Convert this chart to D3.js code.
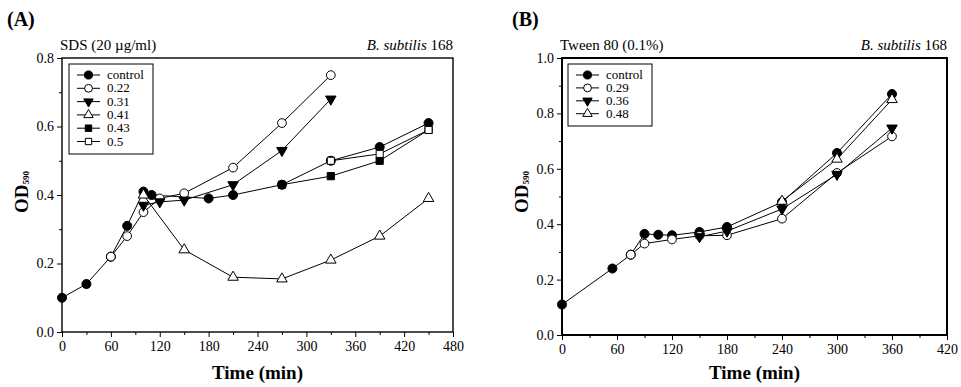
<!DOCTYPE html>
<html>
<head>
<meta charset="utf-8">
<script src="https://cdn.jsdelivr.net/npm/d3@7"></script>
<style>
  body { margin: 0; background: #fff; }
  svg text { font-family: "Liberation Serif", "Times New Roman", serif !important; fill: #000; }
</style>
</head>
<body>
<svg id="chart" width="961" height="387"></svg>
<script>
// ---- data (A): SDS 20 ug/ml ----
const sdsLegend = ["control", "0.22", "0.31", "0.41", "0.43", "0.5"];
const sdsControl = [[0, 0.10], [30, 0.14], [60, 0.22], [80, 0.31], [100, 0.41], [110, 0.40], [180, 0.39], [210, 0.40], [270, 0.43], [330, 0.50], [390, 0.54], [450, 0.61]];
const sds022 = [[60, 0.22], [80, 0.28], [100, 0.35], [120, 0.39], [150, 0.405], [210, 0.48], [270, 0.61], [330, 0.75]];
const sds031 = [[100, 0.37], [120, 0.38], [150, 0.385], [210, 0.43], [270, 0.53], [330, 0.68]];
const sds041 = [[100, 0.40], [150, 0.24], [210, 0.16], [270, 0.155], [330, 0.21], [390, 0.28], [450, 0.39]];
const sds043 = [[270, 0.43], [330, 0.455], [390, 0.50], [450, 0.59]];
const sds05 = [[330, 0.50], [390, 0.52], [450, 0.59]];

// ---- data (B): Tween 80 0.1% ----
const tweenLegend = ["control", "0.29", "0.36", "0.48"];
const tweenControl = [[0, 0.11], [55, 0.24], [75, 0.29], [90, 0.365], [105, 0.362], [120, 0.36], [150, 0.372], [180, 0.39], [240, 0.48], [300, 0.657], [360, 0.87]];
const tween029 = [[75, 0.29], [90, 0.33], [120, 0.345], [150, 0.358], [180, 0.36], [240, 0.42], [300, 0.585], [360, 0.717]];
const tween036 = [[150, 0.355], [180, 0.375], [240, 0.455], [300, 0.58], [360, 0.747]];
const tween048 = [[240, 0.483], [300, 0.635], [360, 0.85]];

const xTicksA = d3.range(0, 481, 60);
const xTicksB = d3.range(0, 421, 60);

// marker styles, same order as legends
const markers = [
  { type: d3.symbolCircle, fill: "#000", size: 64, rot: 0 },
  { type: d3.symbolCircle, fill: "#fff", size: 60, rot: 0 },
  { type: d3.symbolTriangle, fill: "#000", size: 48, rot: 180 },
  { type: d3.symbolTriangle, fill: "#fff", size: 48, rot: 0 },
  { type: d3.symbolSquare, fill: "#000", size: 52, rot: 0 },
  { type: d3.symbolSquare, fill: "#fff", size: 50, rot: 0 }
];

const svg = d3.select("#chart");

function panel(o) {
  const g = svg.append("g");
  const x = d3.scaleLinear().domain(o.xDomain).range([o.left, o.right]);
  const y = d3.scaleLinear().domain(o.yDomain).range([o.bottom, o.top]);

  // minor ticks
  g.append("g").attr("transform", `translate(0,${o.bottom})`)
    .call(d3.axisBottom(x).tickValues(d3.range(30, o.xDomain[1], 60)).tickSize(3).tickFormat(""))
    .call(a => a.select(".domain").remove());
  g.append("g").attr("transform", `translate(${o.left},0)`)
    .call(d3.axisLeft(y).tickValues(d3.range(o.yDomain[0] + 0.1, o.yDomain[1], 0.2)).tickSize(3).tickFormat(""))
    .call(a => a.select(".domain").remove());

  // major ticks
  g.append("g").attr("transform", `translate(0,${o.bottom})`)
    .call(d3.axisBottom(x).tickValues(o.xTicks).tickSize(5).tickPadding(4).tickFormat(d3.format("d")))
    .call(a => a.select(".domain").remove())
    .call(a => a.selectAll("text").attr("font-size", 14));
  g.append("g").attr("transform", `translate(${o.left},0)`)
    .call(d3.axisLeft(y).ticks(o.yTickCount).tickSize(5).tickPadding(3).tickFormat(d3.format(".1f")))
    .call(a => a.select(".domain").remove())
    .call(a => a.selectAll("text").attr("font-size", 14));
  g.selectAll(".tick line").attr("stroke", "#000").attr("stroke-width", 1);

  // frame
  g.append("rect").attr("x", o.left).attr("y", o.top)
    .attr("width", o.right - o.left).attr("height", o.bottom - o.top)
    .attr("fill", "none").attr("stroke", "#000").attr("stroke-width", o.frameWidth);

  const line = d3.line().x(d => x(d[0])).y(d => y(d[1]));
  o.series.forEach((s) => {
    g.append("path").datum(s.data).attr("d", line)
      .attr("fill", "none").attr("stroke", "#000").attr("stroke-width", 1);
  });
  o.series.forEach((s) => {
    const m = markers[s.marker];
    g.selectAll(null).data(s.data).join("path")
      .attr("d", d3.symbol().type(m.type).size(m.size))
      .attr("transform", d => `translate(${x(d[0])},${y(d[1])}) rotate(${m.rot})`)
      .attr("fill", m.fill).attr("stroke", "#000").attr("stroke-width", 1);
  });

  // legend
  const lg = g.append("g");
  lg.append("rect").attr("x", o.legend.x).attr("y", o.legend.y)
    .attr("width", o.legend.w).attr("height", o.legend.h)
    .attr("fill", "#fff").attr("stroke", "#000").attr("stroke-width", 1);
  o.legendNames.forEach((name, i) => {
    const m = markers[i];
    const cy = o.legend.y + 11 + i * o.legend.step;
    const lx = o.legend.x + 8;
    lg.append("line").attr("x1", lx).attr("x2", lx + 23).attr("y1", cy).attr("y2", cy)
      .attr("stroke", "#000").attr("stroke-width", 1);
    lg.append("path").attr("d", d3.symbol().type(m.type).size(m.size * 0.8))
      .attr("transform", `translate(${lx + 11.5},${cy}) rotate(${m.rot})`)
      .attr("fill", m.fill).attr("stroke", "#000");
    lg.append("text").attr("x", lx + 30).attr("y", cy + 4)
      .attr("font-size", o.legend.font).text(name);
  });

  // texts
  g.append("text").attr("x", o.labelX).attr("y", 26)
    .attr("font-size", 20).attr("font-weight", "bold").text(o.label);
  g.append("text").attr("x", o.left - 2).attr("y", 50)
    .attr("font-size", 15).text(o.title);
  const st = g.append("text").attr("x", o.right).attr("y", 50)
    .attr("font-size", 15).attr("text-anchor", "end");
  st.append("tspan").attr("font-style", "italic").text("B. subtilis");
  st.append("tspan").text(" 168");

  g.append("text").attr("x", (o.left + o.right) / 2).attr("y", 379)
    .attr("text-anchor", "middle").attr("font-size", 19).attr("font-weight", "bold")
    .text("Time (min)");
  const yl = g.append("text")
    .attr("transform", `translate(${o.yLabelX},${o.yLabelY}) rotate(-90)`)
    .attr("text-anchor", "middle").attr("font-weight", "bold").attr("font-size", 19);
  yl.append("tspan").text("OD");
  yl.append("tspan").attr("font-size", 9).attr("dy", 1).text("590");
}

panel({
  xDomain: [0, 480], yDomain: [0, 0.8], xTicks: xTicksA, yTickCount: 4,
  left: 62, right: 453, top: 58, bottom: 332, frameWidth: 1.4,
  series: [
    { data: sdsControl, marker: 0 }, { data: sds022, marker: 1 }, { data: sds031, marker: 2 },
    { data: sds041, marker: 3 }, { data: sds043, marker: 4 }, { data: sds05, marker: 5 }
  ],
  legendNames: sdsLegend,
  legend: { x: 69, y: 64, w: 84, h: 90, step: 13.3, font: 13 },
  label: "(A)", labelX: 7, title: "SDS (20 \u00b5g/ml)",
  yLabelX: 28, yLabelY: 192
});

panel({
  xDomain: [0, 420], yDomain: [0, 1.0], xTicks: xTicksB, yTickCount: 5,
  left: 562, right: 947, top: 58, bottom: 335, frameWidth: 2,
  series: [
    { data: tweenControl, marker: 0 }, { data: tween029, marker: 1 },
    { data: tween036, marker: 2 }, { data: tween048, marker: 3 }
  ],
  legendNames: tweenLegend,
  legend: { x: 568, y: 64, w: 84, h: 62, step: 12.9, font: 13 },
  label: "(B)", labelX: 512, title: "Tween 80 (0.1%)",
  yLabelX: 528, yLabelY: 192
});
</script>
</body>
</html>
